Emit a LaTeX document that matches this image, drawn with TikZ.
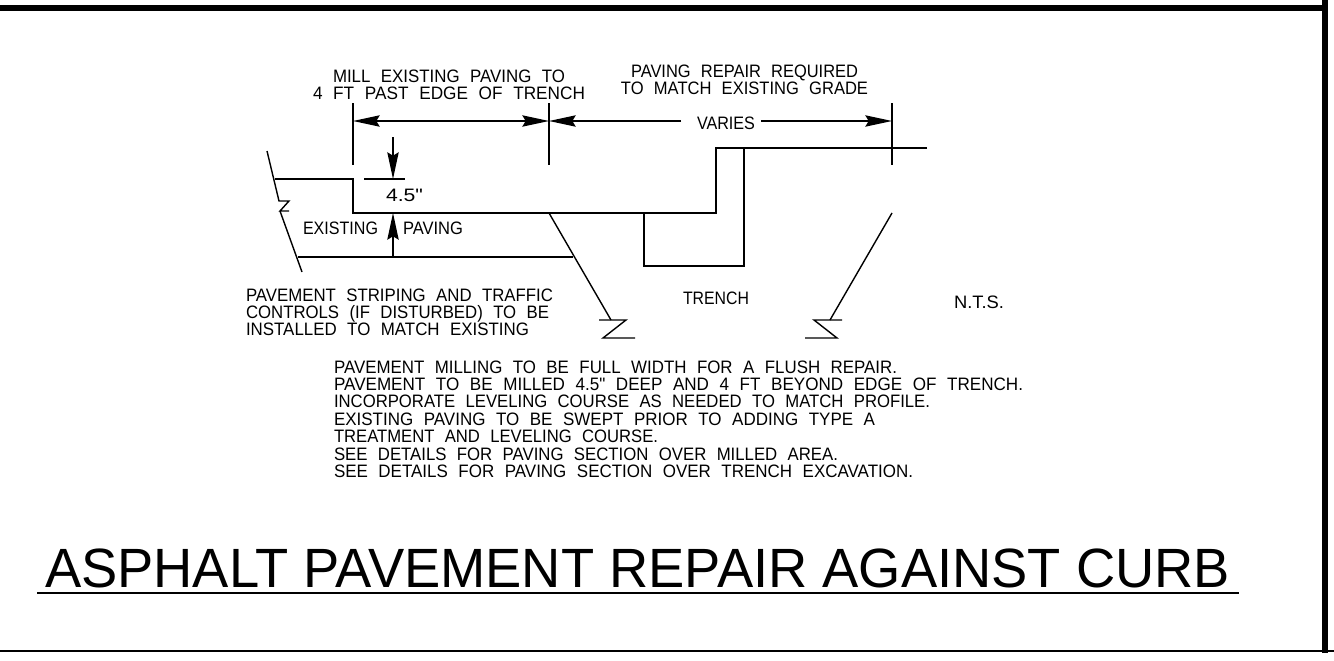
\documentclass[tikz,border=0pt]{standalone}
\usepackage{fontspec}
\setmainfont{Liberation Sans}[Ligatures=TeXOff]
\usetikzlibrary{arrows.meta}
\newcommand{\fitw}[2]{\resizebox{\dimexpr #1pt*3/4\relax}{\height}{\spaceskip=.62em\relax #2}}
\tikzset{
  x=0.75pt,y=-0.75pt,
  ln/.style={line width=1.05pt,line join=miter},
  head/.style={-{Stealth[length=20pt,width=8.5pt,inset=2.5pt]}},
  heads/.style={{Stealth[length=20pt,width=8.5pt,inset=2.5pt]}-{Stealth[length=20pt,width=8.5pt,inset=2.5pt]}},
  cad/.style={inner sep=0pt,outer sep=0pt,font=\fontsize{13.5}{13.05}\selectfont,align=left},
  cadc/.style={cad,anchor=base west},
  cadb/.style={cad,anchor=north west},
  cadm/.style={cad,anchor=north,align=center},
}
\begin{document}
\begin{tikzpicture}
\useasboundingbox (0,0) rectangle (1334,660);
% frame
\fill[black] (0,5) rectangle (1328,11);
\fill[black] (1322,0) rectangle (1328,653);
\draw[line width=1.1pt] (0,651) -- (1334,651);
% coordinates
\coordinate (e1t) at (353,103); \coordinate (e1b) at (353,165);
\coordinate (e2t) at (549,103); \coordinate (e2b) at (549,165);
\coordinate (e3t) at (892,103); \coordinate (e3b) at (892,165);
\coordinate (d1) at (353,121); \coordinate (d2) at (549,121); \coordinate (d3) at (892,121);
\coordinate (va) at (681,121); \coordinate (vb) at (761,121);
\coordinate (a) at (927,148); \coordinate (b) at (716,148); \coordinate (c) at (716,213);
\coordinate (d) at (353,213); \coordinate (e) at (353,179); \coordinate (f) at (275,179);
\coordinate (t0) at (644,213); \coordinate (t1) at (644,266); \coordinate (t2) at (744,266); \coordinate (t3) at (744,148);
\coordinate (p1) at (298,257); \coordinate (p2) at (573,257);
\coordinate (br1) at (267,151); \coordinate (br2) at (279,201); \coordinate (br3) at (289,201);
\coordinate (br4) at (280,211); \coordinate (br5) at (289,211); \coordinate (br6) at (302,272);
\coordinate (g0) at (549,213); \coordinate (g1) at (611,320); \coordinate (g2) at (599,320);
\coordinate (g3) at (626,320); \coordinate (g4) at (603,338); \coordinate (g5) at (635,338);
\coordinate (h0) at (892,213); \coordinate (h1) at (830,320); \coordinate (h2) at (842,320);
\coordinate (h3) at (814,320); \coordinate (h4) at (837,338); \coordinate (h5) at (805,338);
\coordinate (m1) at (393,137); \coordinate (m2) at (393,179); \coordinate (m3) at (364,179); \coordinate (m4) at (405,179);
\coordinate (m5) at (393,257); \coordinate (m6) at (393,213);
% extension lines
\draw[ln] (e1t) -- (e1b);
\draw[ln] (e2t) -- (e2b);
\draw[ln] (e3t) -- (e3b);
% dimension lines
\draw[ln,heads] (d1) -- (d2);
\draw[ln,head] (va) -- (d2);
\draw[ln,head] (vb) -- (d3);
% pavement outline
\draw[ln] (a) -- (b) -- (c) -- (d) -- (e) -- (f);
\draw[ln] (t0) -- (t1) -- (t2) -- (t3);
\draw[ln] (p1) -- (p2);
% break lines
\draw[ln] (br1) -- (br2) -- (br3) -- (br4) -- (br5);
\draw[ln] (br4) -- (br6);
\draw[ln] (g0) -- (g1);
\draw[ln] (g2) -- (g3) -- (g4) -- (g5);
\draw[ln] (h0) -- (h1);
\draw[ln] (h2) -- (h3) -- (h4) -- (h5);
% depth arrows
\draw[ln,head] (m1) -- (m2);
\draw[ln] (m3) -- (m4);
\draw[ln,head] (m5) -- (m6);
% texts
\node[cadm] (mill) at (449,69.5) {\fitw{232}{MILL EXISTING PAVING TO}\\\fitw{272}{4 FT PAST EDGE OF TRENCH}};
\node[cadm] (rep) at (744.5,64.5) {\fitw{227}{PAVING REPAIR REQUIRED}\\\fitw{247}{TO MATCH EXISTING GRADE}};
\node[cadc] (var) at (697,129) {\fitw{58}{VARIES}};
\node[cadc] (dep) at (386,201) {\fitw{37}{4.5"}};
\node[cadc] (ex) at (303,234) {\fitw{75}{EXISTING}};
\node[cadc] (pv) at (403,234) {\fitw{60}{PAVING}};
\node[cadb] (stripe) at (246,288.5) {\fitw{307}{PAVEMENT STRIPING AND TRAFFIC}\\\fitw{303}{CONTROLS (IF DISTURBED) TO BE}\\\fitw{283}{INSTALLED TO MATCH EXISTING}};
\node[cadc] (tr) at (683,304) {\fitw{66}{TRENCH}};
\node[cadc] (nts) at (954,308) {\fitw{50}{N.T.S.}};
\node[cadb] (notes) at (334,360.5) {\fitw{563}{PAVEMENT MILLING TO BE FULL WIDTH FOR A FLUSH REPAIR.}\\
\fitw{689}{PAVEMENT TO BE MILLED 4.5" DEEP AND 4 FT BEYOND EDGE OF TRENCH.}\\
\fitw{596}{INCORPORATE LEVELING COURSE AS NEEDED TO MATCH PROFILE.}\\
\fitw{541}{EXISTING PAVING TO BE SWEPT PRIOR TO ADDING TYPE A}\\
\fitw{324}{TREATMENT AND LEVELING COURSE.}\\
\fitw{504}{SEE DETAILS FOR PAVING SECTION OVER MILLED AREA.}\\
\fitw{579}{SEE DETAILS FOR PAVING SECTION OVER TRENCH EXCAVATION.}};
\node[cadc,font=\fontsize{41.5}{44}\selectfont] (title) at (45,587) {\resizebox{888.75pt}{\height}{ASPHALT PAVEMENT REPAIR AGAINST CURB}};
\coordinate (u1) at (37,593); \coordinate (u2) at (1239,593);
\draw[line width=1.2pt] (u1) -- (u2);
\end{tikzpicture}
\end{document}
